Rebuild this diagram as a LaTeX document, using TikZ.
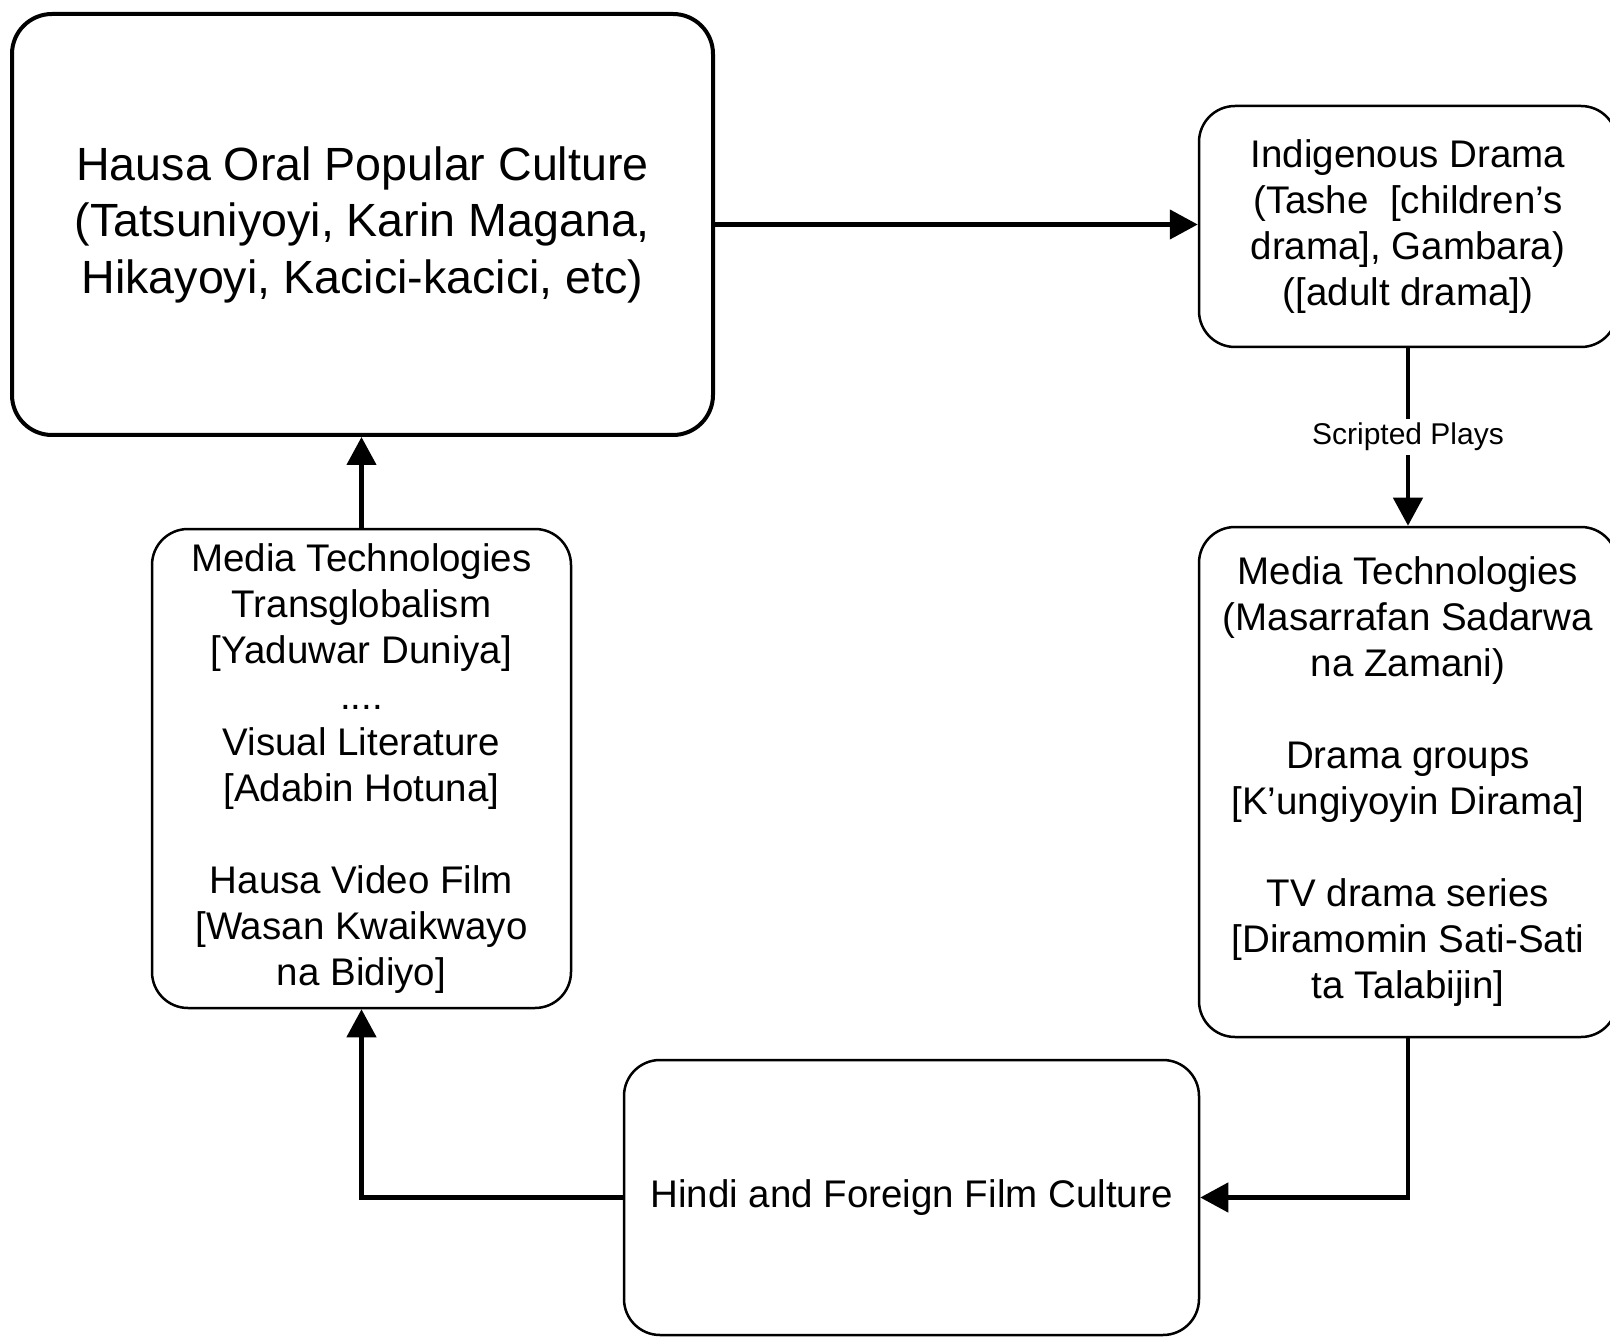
\documentclass[tikz,border=0pt]{standalone}
\usepackage{fontspec}
\setmainfont{Liberation Sans}
\usetikzlibrary{arrows.meta}
\begin{document}
\begin{tikzpicture}[x=1pt,y=-1pt,
  box/.style={draw=black, rounded corners=36pt, line width=2.5pt, align=center, inner sep=0pt,
    font=\fontsize{38.5}{46}\selectfont},
  bigbox/.style={box, line width=4pt, rounded corners=40pt, font=\fontsize{46.6}{56.5}\selectfont},
  conn/.style={draw=black, line width=4.5pt, -{Triangle[length=28pt,width=29pt]}},
  lbl/.style={fill=white, inner sep=4pt, font=\fontsize{30}{36}\selectfont}]
\useasboundingbox (0,0) rectangle (1610,1337);
\node[bigbox, minimum width=701pt, minimum height=421pt] (A) at (362.5,224.5)
  {Hausa Oral Popular Culture\\(Tatsuniyoyi, Karin Magana,\\Hikayoyi, Kacici-kacici, etc)};
\node[box, minimum width=418pt, minimum height=241pt] (B) at (1408,226.5)
  {Indigenous Drama\\(Tashe~ [children's\\drama], Gambara)\\({[}adult drama])};
\node[box, minimum width=418pt, minimum height=510pt] (C) at (1408,782)
  {Media Technologies\\(Masarrafan Sadarwa\\na Zamani)\\[46pt]Drama groups\\{[}K'ungiyoyin Dirama]\\[46pt]TV drama series\\{[}Diramomin Sati-Sati\\ta Talabijin]};
\node[box, minimum width=575pt, minimum height=275pt] (D) at (911.5,1197.5)
  {Hindi and Foreign Film Culture};
\node[box, minimum width=419pt, minimum height=479pt] (E) at (361.5,768.5)
  {Media Technologies\\Transglobalism\\{[}Yaduwar Duniya]\\....\\Visual Literature\\{[}Adabin Hotuna]\\[46pt]Hausa Video Film\\{[}Wasan Kwaikwayo\\na Bidiyo]};
\draw[conn] (A.east) -- (A.east -| B.west);
\draw[conn] (B.south) -- node[lbl] {Scripted Plays} (C.north);
\draw[conn] (C.south) |- (D.east);
\draw[conn] (D.west) -| (E.south);
\draw[conn] (E.north) -- (E.north |- A.south);
\end{tikzpicture}
\end{document}
